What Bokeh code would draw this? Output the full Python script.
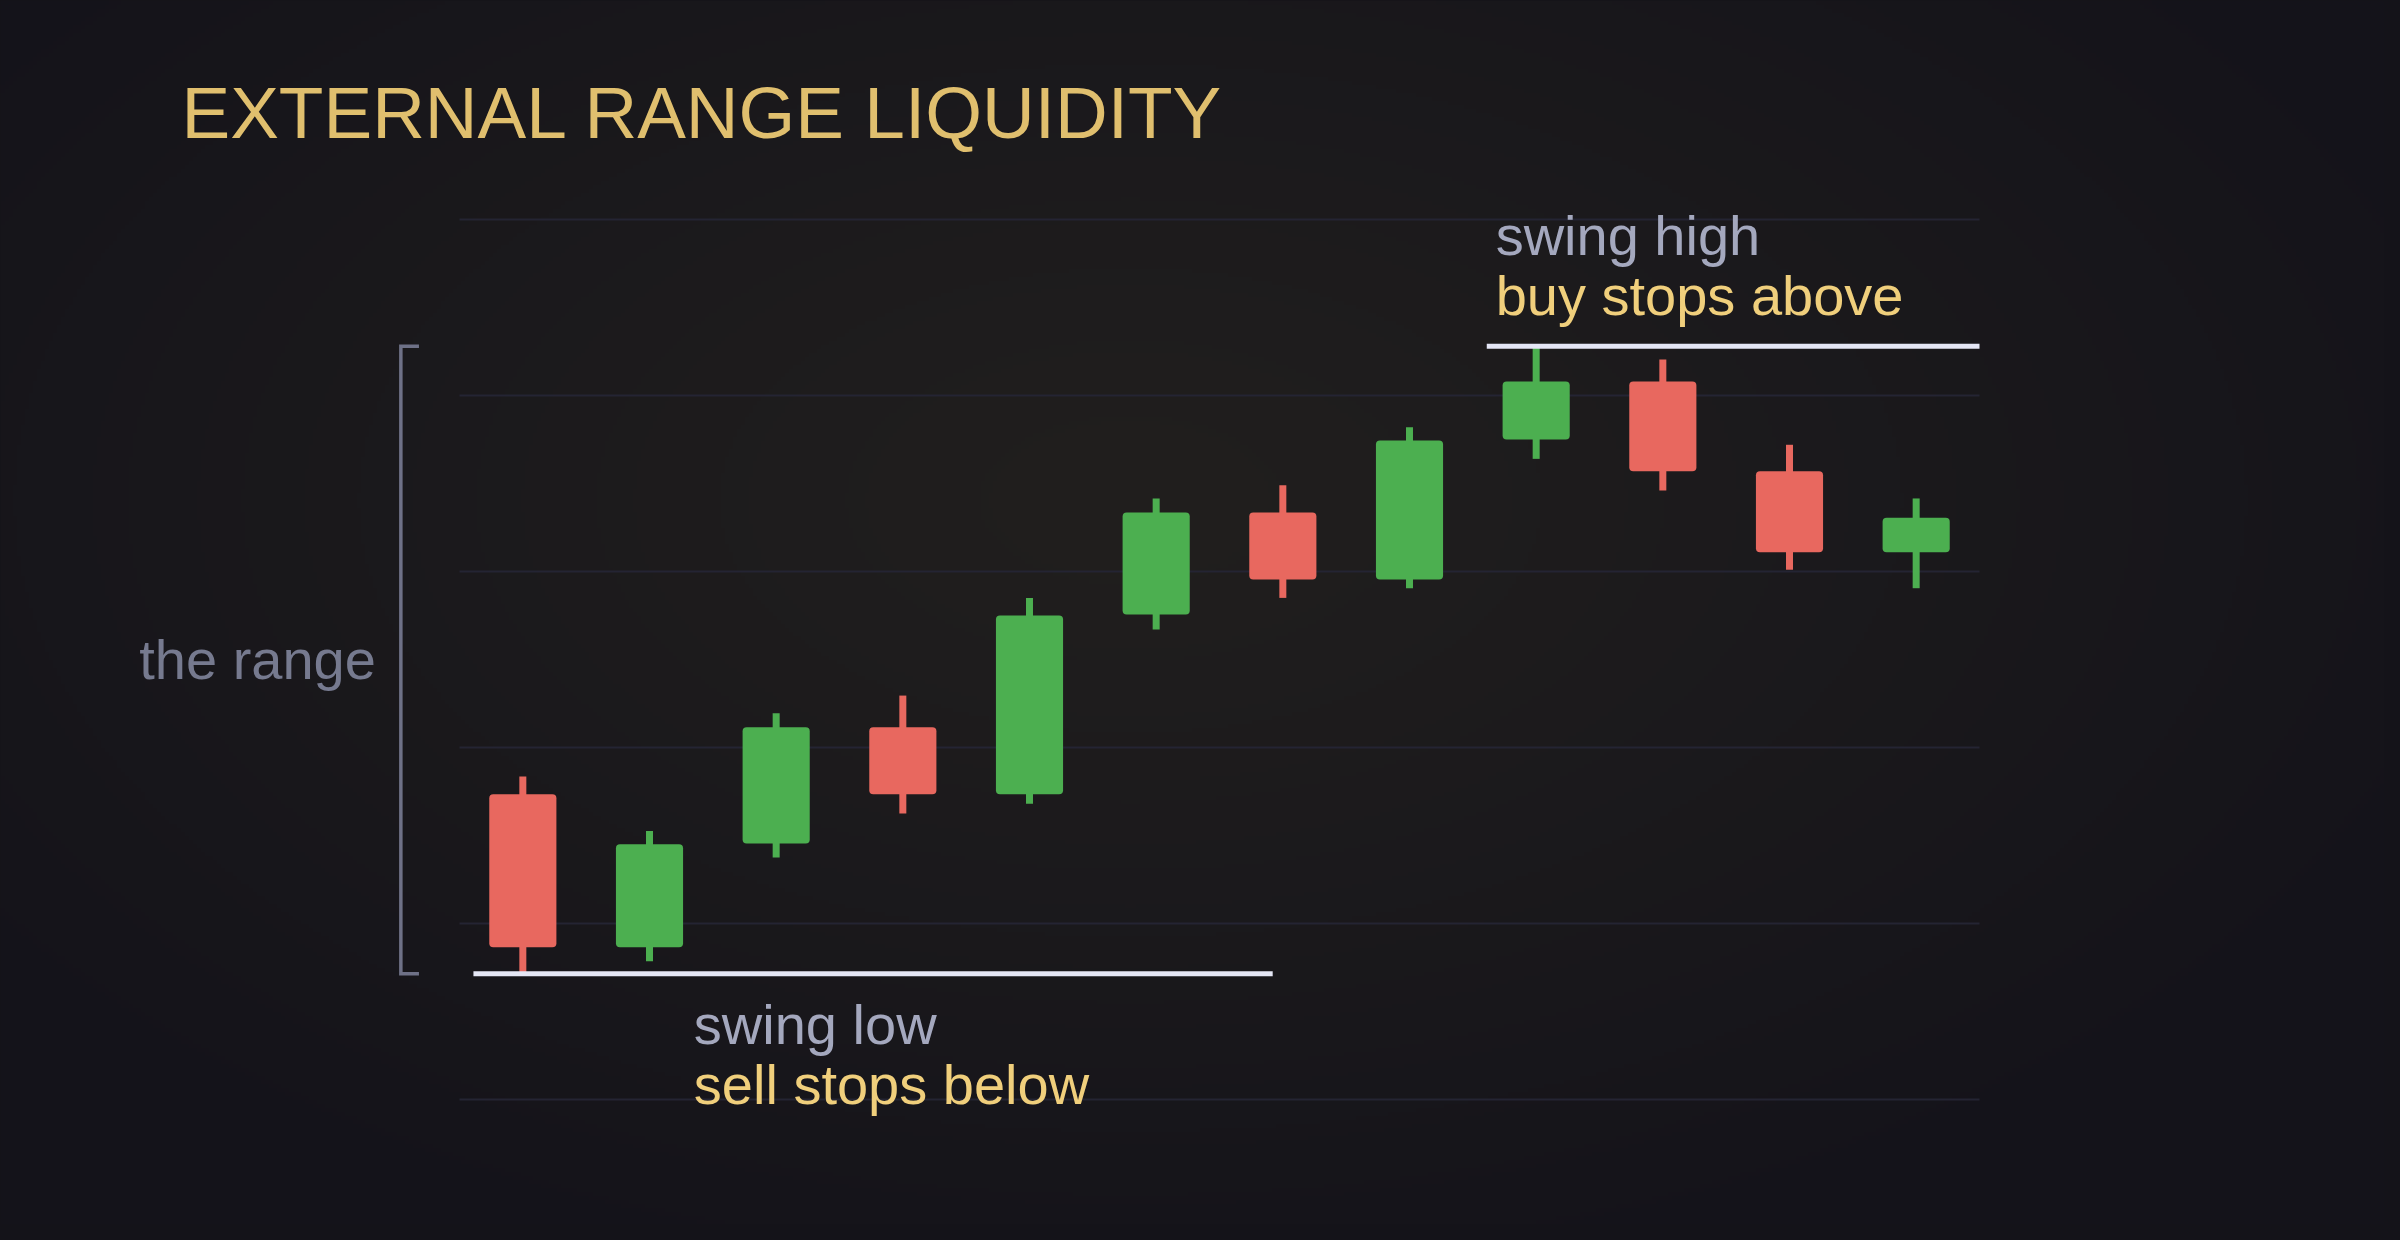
import numpy as np
from bokeh.plotting import figure
from bokeh.models import Label, ColumnDataSource
from bokeh.embed import file_html
from bokeh.resources import INLINE

# ---------------- data ----------------
title_text = "EXTERNAL RANGE LIQUIDITY"
candle_idx = [0, 1, 2, 3, 4, 5, 6, 7, 8, 9, 10, 11]
opens  = [34.7, 17.3, 29.1, 42.3, 34.7, 55.1, 66.7, 59.1, 75.0, 81.6, 71.4, 62.2]
closes = [17.3, 29.0, 42.3, 34.7, 55.0, 66.7, 59.1, 74.9, 81.6, 71.4, 62.2, 66.1]
highs  = [36.7, 30.5, 43.9, 45.9, 57.0, 68.3, 69.8, 76.4, 85.6, 84.1, 74.4, 68.3]
lows   = [14.3, 15.7, 27.5, 32.5, 33.6, 53.4, 57.0, 58.1, 72.8, 69.2, 60.2, 58.1]
grid_levels = [0, 20, 40, 60, 80, 100]
high_labels = ["swing high", "buy stops above"]
low_labels = ["swing low", "sell stops below"]
range_label = "the range"

# ---------------- style ----------------
GREEN = "#4caf50"
RED = "#e8685f"
LEVEL = "#e4e6f5"
GOLD = "#f0cf7c"
TITLE_GOLD = "#e0bf6e"
SOFT = "#a4a8be"
MUTED = "#767a8f"
FONT = "Liberation Sans"

W, H = 2384, 1224
X0, X1 = -4.1237, 14.6974
Y0, Y1 = -14.205, 124.886

p = figure(width=W, height=H, x_range=(X0, X1), y_range=(Y0, Y1),
           output_backend="svg", toolbar_location=None, min_border=0,
           x_axis_location=None, y_axis_location=None)
p.grid.visible = False
p.outline_line_color = None
p.background_fill_color = "#17161b"
p.border_fill_color = "#17161b"

# soft radial background glow (styling only)
gh, gw = H // 4, W // 4
ys, xs = np.mgrid[0:gh, 0:gw]
px = (xs + 0.5) * 4
py = (ys + 0.5) * 4
r = np.sqrt(((px - 1130) / 1450.0) ** 2 + ((py - 500) / 820.0) ** 2)
t = np.clip(r, 0, 1) ** 1.1
c0 = np.array([33, 31, 30], dtype=float)
c1 = np.array([20, 19, 26], dtype=float)
col = c0[None, None, :] + (c1 - c0)[None, None, :] * t[..., None]
img = np.zeros((gh, gw), dtype=np.uint32)
view = img.view(dtype=np.uint8).reshape((gh, gw, 4))
view[..., 0] = col[..., 0]
view[..., 1] = col[..., 1]
view[..., 2] = col[..., 2]
view[..., 3] = 255
img = np.ascontiguousarray(np.flipud(img))
p.image_rgba(image=[img], x=X0, y=Y0, dw=X1 - X0, dh=Y1 - Y0)

# grid lines
p.segment(x0=[-0.5] * len(grid_levels), x1=[11.5] * len(grid_levels),
          y0=grid_levels, y1=grid_levels, line_color="#242433", line_width=2)

# candles
colors = [GREEN if c >= o else RED for o, c in zip(opens, closes)]
src = ColumnDataSource(dict(
    x=candle_idx,
    top=[max(o, c) for o, c in zip(opens, closes)],
    bottom=[min(o, c) for o, c in zip(opens, closes)],
    high=highs, low=lows, color=colors))
p.segment(x0="x", y0="low", x1="x", y1="high", line_color="color",
          line_width=7, source=src)
p.vbar(x="x", width=0.53, top="top", bottom="bottom", fill_color="color",
       line_color=None, border_radius=4, source=src)

# swing levels
swing_low = min(lows)
swing_high = max(highs)
p.segment(x0=[-0.39], x1=[5.92], y0=[swing_low], y1=[swing_low],
          line_color=LEVEL, line_width=5)
p.segment(x0=[7.61], x1=[11.5], y0=[swing_high], y1=[swing_high],
          line_color=LEVEL, line_width=5)

# range bracket
p.line(x=[-0.82, -0.963, -0.963, -0.82],
       y=[swing_high, swing_high, swing_low, swing_low],
       line_color="#6e7187", line_width=3.5, line_join="miter")

# texts
def add_label(x, y, text, size, color, align="left"):
    p.add_layout(Label(x=x, y=y, text=text, text_font=FONT,
                       text_font_size=size, text_color=color,
                       text_align=align, text_baseline="middle"))

add_label(-2.695, 112.16, title_text, "73px", TITLE_GOLD)
add_label(7.68, 98.14, high_labels[0], "56px", SOFT)
add_label(7.68, 91.32, high_labels[1], "56px", GOLD)
add_label(1.35, 8.48, low_labels[0], "56px", SOFT)
add_label(1.35, 1.66, low_labels[1], "56px", GOLD)
add_label(-1.16, (swing_low + swing_high) / 2, range_label, "56px", MUTED, "right")

html = file_html(p, INLINE, title="External Range Liquidity")
html = html.replace("</head>", "<style>body{background:#141319;}</style></head>", 1)
open("out.html", "w").write(html)
